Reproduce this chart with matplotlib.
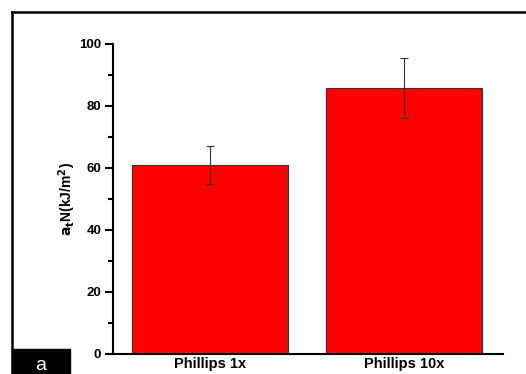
import matplotlib.pyplot as plt
import matplotlib.patches as patches
from matplotlib.ticker import MultipleLocator

plt.rcParams['font.family'] = ['Liberation Sans', 'DejaVu Sans']

labels = ['Phillips 1x', 'Phillips 10x']
values = [60.9, 85.8]
errors = [6.2, 9.6]

fig = plt.figure(figsize=(5.26, 3.74), dpi=100)
ax = fig.add_axes([113 / 526, 20 / 374, 390 / 526, 310 / 374])

x = list(range(len(labels)))
ax.bar(x, values, width=0.8, color='#ff0000', edgecolor='#333333', linewidth=0.8)
ax.errorbar(x, values, yerr=errors, fmt='none', ecolor='#333333',
            elinewidth=0.8, capsize=3, capthick=0.8)

ax.set_xlim(-0.5, 1.51)
ax.set_ylim(0, 100)
ax.set_xticks(x)
ax.set_xticklabels(labels, fontsize=10.5, fontweight='bold')
ax.tick_params(axis='x', length=0, pad=2.5)
ax.yaxis.set_major_locator(MultipleLocator(20))
ax.yaxis.set_minor_locator(MultipleLocator(10))
ax.tick_params(axis='y', which='major', length=6, width=1.5, labelsize=9.5, pad=2.5)
ax.tick_params(axis='y', which='minor', length=3.5, width=1.5)
for lab in ax.get_yticklabels():
    lab.set_fontweight('bold')
ax.spines['top'].set_visible(False)
ax.spines['right'].set_visible(False)
ax.spines['left'].set_linewidth(1.5)
ax.spines['bottom'].set_linewidth(1.5)
ax.set_ylabel(r'$\mathbf{a_t}$N(kJ/m$\mathbf{^2}$)', fontsize=10, fontweight='bold', labelpad=1)

# outer frame (top and left) and panel tag
fig.add_artist(plt.Line2D([12 / 526, 1], [1 - 12 / 374, 1 - 12 / 374], color='black', lw=1.8))
fig.add_artist(plt.Line2D([12 / 526, 12 / 526], [0, 1 - 12 / 374], color='black', lw=1.8))
fig.add_artist(patches.Rectangle((12 / 526, 0), 58 / 526, 25 / 374, color='black',
                                 transform=fig.transFigure))
fig.text(41 / 526, 8 / 374, 'a', color='white', fontsize=14, ha='center', va='center')

fig.savefig('out.png', dpi=100)
